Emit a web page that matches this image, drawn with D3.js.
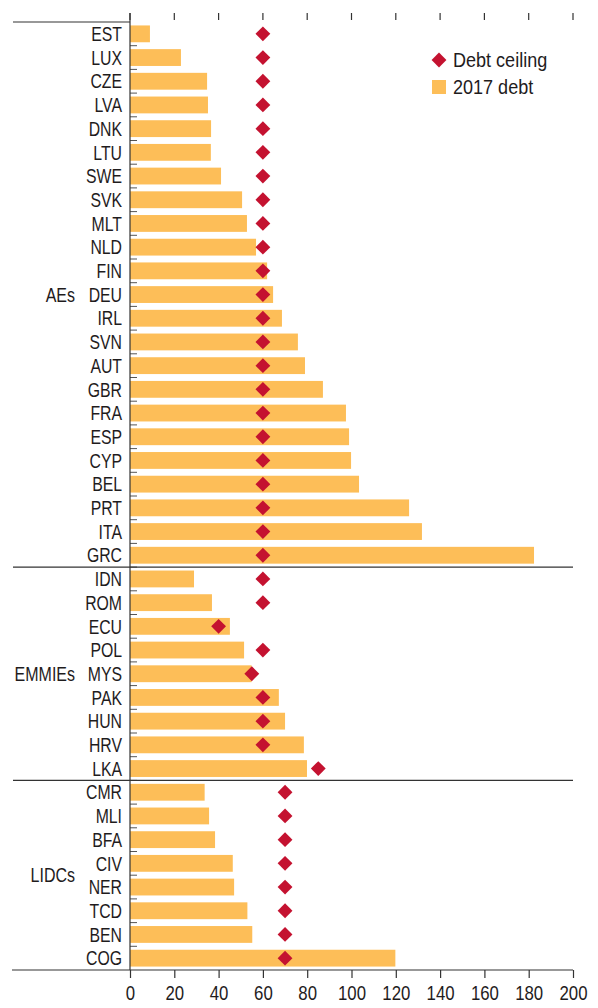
<!DOCTYPE html>
<html>
<head>
<meta charset="utf-8">
<script src="https://cdn.jsdelivr.net/npm/d3@7"></script>
<style>
  body { margin: 0; background: #fff; }
  text { font-family: "Liberation Sans", Arial, sans-serif; fill: #1f1c1d; }
</style>
</head>
<body>
<svg id="chart" width="598" height="1008"></svg>
<script>
// country codes, top to bottom
const countries = ['EST','LUX','CZE','LVA','DNK','LTU','SWE','SVK','MLT','NLD','FIN','DEU','IRL','SVN','AUT','GBR','FRA','ESP','CYP','BEL','PRT','ITA','GRC',
  'IDN','ROM','ECU','POL','MYS','PAK','HUN','HRV','LKA',
  'CMR','MLI','BFA','CIV','NER','TCD','BEN','COG'];
// 2017 debt, % of GDP
const debt2017 = [9, 23, 34.8, 35.2, 36.6, 36.5, 41.1, 50.6, 52.8, 56.9, 61.9, 64.6, 68.6, 75.8, 79, 87.1, 97.5, 98.9, 99.8, 103.4, 126, 131.8, 182.4,
  28.9, 37, 45.1, 51.5, 54.9, 67.2, 70, 78.5, 79.9,
  33.7, 35.7, 38.4, 46.4, 47, 53, 55.2, 119.8];
// debt ceiling
const ceiling = [60,60,60,60,60,60,60,60,60,60,60,60,60,60,60,60,60,60,60,60,60,60,60,
  60, 60, 40, 60, 55, 60, 60, 60, 85,
  70,70,70,70,70,70,70,70];
// country groups: label, first country, row where the label sits
const groups = [
  { name: 'AEs', first: 'EST', labelAt: 'DEU' },
  { name: 'EMMIEs', first: 'IDN', labelAt: 'MYS' },
  { name: 'LIDCs', first: 'CMR', labelAt: null }
];
const xTicks = [0, 20, 40, 60, 80, 100, 120, 140, 160, 180, 200];

const svg = d3.select('#chart');
const mLeft = 130, mRight = 573, mTop = 22, mBottom = 970;
// no condensed font installed, so squeeze text horizontally
const squeeze = 0.8;

const x = d3.scaleLinear().domain([0, 200]).range([mLeft, mRight]);
const y = d3.scaleBand().domain(countries).range([mTop, mBottom]).paddingInner(0.29).paddingOuter(0.145);
const gap = y.step() * y.paddingInner() / 2;

const data = countries.map((c, i) => ({ c: c, debt: debt2017[i], ceil: ceiling[i] }));

function narrowText(parent, tx, ty, str, anchor, size, sx) {
  return parent.append('text')
    .attr('transform', 'translate(' + tx + ',' + ty + ') scale(' + (sx || squeeze) + ',1)')
    .attr('dy', '0.36em')
    .attr('text-anchor', anchor)
    .attr('font-size', size)
    .text(str);
}

// bars
svg.append('g').selectAll('rect')
  .data(data)
  .join('rect')
  .attr('x', x(0))
  .attr('y', d => y(d.c))
  .attr('width', d => x(d.debt) - x(0))
  .attr('height', y.bandwidth())
  .attr('fill', '#fdbe58');

// diamonds
const diamond = d3.symbol().type(d3.symbolSquare).size(110);
svg.append('g').selectAll('path')
  .data(data)
  .join('path')
  .attr('d', diamond)
  .attr('transform', d => 'translate(' + x(d.ceil) + ',' + (y(d.c) + y.bandwidth() / 2) + ') rotate(45)')
  .attr('fill', '#c41230');

// small ticks on left axis at row boundaries
svg.append('g').selectAll('line')
  .data(countries.slice(1))
  .join('line')
  .attr('x1', mLeft).attr('x2', mLeft + 7)
  .attr('y1', d => y(d) - gap)
  .attr('y2', d => y(d) - gap)
  .attr('stroke', '#555').attr('stroke-width', 1);

// vertical axis line
svg.append('line')
  .attr('x1', mLeft).attr('x2', mLeft).attr('y1', 13).attr('y2', mBottom)
  .attr('stroke', '#333').attr('stroke-width', 1.2);

// top ticks
svg.append('g').selectAll('line')
  .data(xTicks)
  .join('line')
  .attr('x1', d => x(d)).attr('x2', d => x(d))
  .attr('y1', 13).attr('y2', 20)
  .attr('stroke', '#333').attr('stroke-width', 1.2);

// top rule left of axis
svg.append('line')
  .attr('x1', 13).attr('x2', mLeft).attr('y1', mTop).attr('y2', mTop)
  .attr('stroke', '#333').attr('stroke-width', 1.2);

// group separators
groups.slice(1).forEach(g => {
  const yy = y(g.first) - gap;
  svg.append('line')
    .attr('x1', 13).attr('x2', mRight).attr('y1', yy).attr('y2', yy)
    .attr('stroke', '#333').attr('stroke-width', 1.2);
});

// bottom axis
const xAxis = d3.axisBottom(x).tickValues(xTicks).tickSize(8).tickPadding(7);
const ax = svg.append('g').attr('transform', 'translate(0,' + mBottom + ')').call(xAxis);
ax.select('.domain').remove();
ax.selectAll('.tick line').attr('stroke', '#333').attr('stroke-width', 1.2);
ax.selectAll('.tick text')
  .attr('font-size', 21)
  .attr('fill', '#1f1c1d')
  .attr('transform', 'scale(0.8,1)')
  .style('font-family', '"Liberation Sans", Arial, sans-serif');
svg.append('line')
  .attr('x1', 12).attr('x2', mRight).attr('y1', mBottom).attr('y2', mBottom)
  .attr('stroke', '#333').attr('stroke-width', 1.2);

// country labels
const labels = svg.append('g');
countries.forEach(c => narrowText(labels, 122, y(c) + y.bandwidth() / 2, c, 'end', 20, 0.79));

// group labels
groups.forEach(g => {
  let yy;
  if (g.labelAt) yy = y(g.labelAt) + y.bandwidth() / 2;
  else yy = (y('CIV') + y('NER')) / 2 + y.bandwidth() / 2;
  narrowText(svg, 75, yy, g.name, 'end', 20, 0.8);
});

// legend
const legend = svg.append('g');
legend.append('path')
  .attr('d', diamond)
  .attr('transform', 'translate(439,60) rotate(45)')
  .attr('fill', '#c41230');
narrowText(legend, 453, 60, 'Debt ceiling', 'start', 20.5, 0.88);
legend.append('rect').attr('x', 432).attr('y', 80).attr('width', 14).attr('height', 14).attr('fill', '#fdbe58');
narrowText(legend, 453, 87, '2017 debt', 'start', 20.5, 0.88);
</script>
</body>
</html>
